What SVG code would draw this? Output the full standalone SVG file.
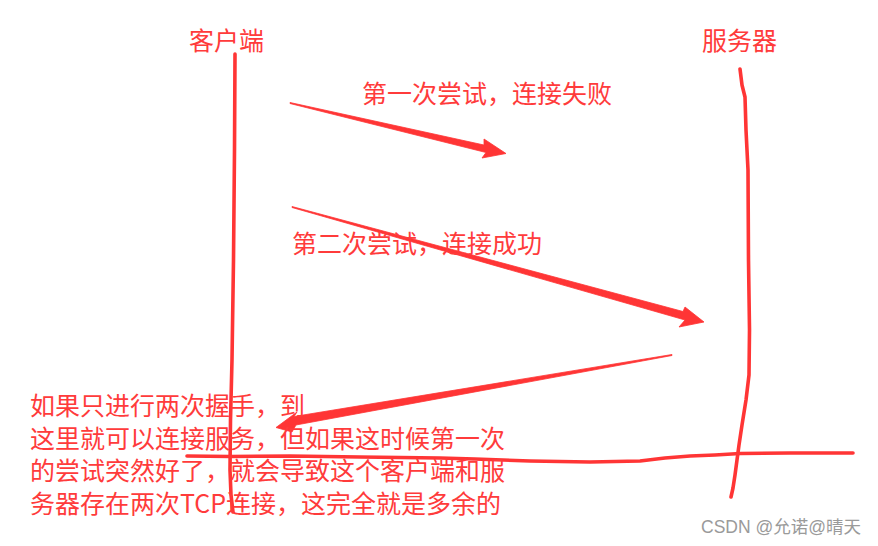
<svg xmlns="http://www.w3.org/2000/svg" width="878" height="546" viewBox="0 0 878 546">
<style>
  .t { font-family: "Noto Sans CJK SC", "Liberation Sans", sans-serif; font-size: 25px; fill: #ff3b3b; }
  .hand { fill: none; stroke: #ff3535; stroke-width: 3.6; stroke-linecap: round; stroke-linejoin: round; }
  .arrow { fill: #ff3535; stroke: #ff3535; stroke-width: 0.8; stroke-linejoin: round; }
  .wm { font-family: "Liberation Sans", "Noto Sans CJK SC", sans-serif; font-size: 17.5px; fill: #9a9a9a; }
</style>
<rect width="878" height="546" fill="#ffffff"/>

<g id="client">
  <text class="t" x="189" y="50">客户端</text>
  <path class="hand" d="M235,54 L234.5,150 L233.5,260 L232,360 L230.5,420 L230,470 L231,495 L233,512"/>
</g>

<g id="server">
  <text class="t" x="702" y="50">服务器</text>
  <path class="hand" d="M740,69 L742,85 L745,97 L746,130 L748,170 L748.5,260 L749.5,330 L749,375 L746,400 L742,425 L739,445 L737,460 L735,475 L733,488 L731,497"/>
</g>

<g id="divider">
  <path class="hand" d="M187,456 L230,456.5 L290,456 L360,457 L440,458 L475,459 L530,461 L590,462 L640,461 L665,458 L690,456 L715,455 L740,453.5 L790,453 L853,453"/>
</g>

<g id="connectors">
  <polygon class="arrow" points="290,102.5 484,145 484,139 506,153.5 482,158 486,152.5 290,103.5"/>
  <polygon class="arrow" points="292,206.5 683,311.5 685,307 704,322 679,327 685,320 292,207.5"/>
  <polygon class="arrow" points="672,354.5 294,416.5 297,412 276,427.5 292,432 296,425 672,355.5"/>
</g>

<g id="label-1">
  <text class="t" x="362" y="103">第一次尝试，连接失败</text>
</g>
<g id="label-2">
  <text class="t" x="292" y="253">第二次尝试，连接成功</text>
</g>

<g id="note">
  <text class="t" x="30" y="415">如果只进行两次握手，到</text>
  <text class="t" x="30" y="448">这里就可以连接服务，但如果这时候第一次</text>
  <text class="t" x="30" y="480">的尝试突然好了，就会导致这个客户端和服</text>
  <text class="t" x="30" y="513">务器存在两次TCP连接，这完全就是多余的</text>
</g>

<text class="wm" x="701" y="533">CSDN @允诺@晴天</text>
</svg>
